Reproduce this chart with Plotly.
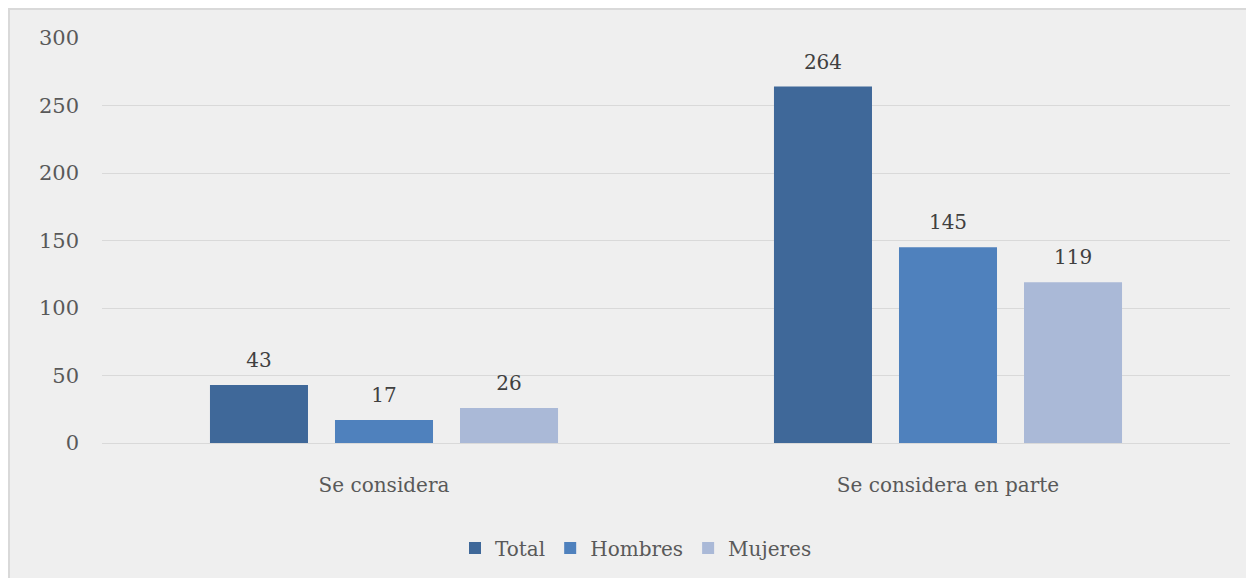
import plotly.graph_objects as go

categories = ["Se considera", "Se considera en parte"]
total = [43, 264]
hombres = [17, 145]
mujeres = [26, 119]
y_ticks = [0, 50, 100, 150, 200, 250, 300]

# the page puts the figure 8px in from the top-left corner
W, H = 1246, 570
ML, MR, MT, MB = 94, 24, 30, 134
PW, PH = W - ML - MR, H - MT - MB

FONT = "DejaVu Serif"
BG = "#efefef"

series = [
    ("Total", total, "#3f6899"),
    ("Hombres", hombres, "#4f81bd"),
    ("Mujeres", mujeres, "#aab9d7"),
]

# tall hair spaces on both sides lift the label a little off the bar
pad = "<span style='font-size:62px'>\u200a</span>"

fig = go.Figure()
for name, vals, col in series:
    fig.add_trace(
        go.Bar(
            x=categories,
            y=vals,
            name=name,
            marker=dict(color=col, line=dict(width=0)),
            text=vals,
            texttemplate=pad + "%{text}" + pad,
            textposition="outside",
            textfont=dict(family=FONT, size=20, color="#404040"),
            cliponaxis=False,
        )
    )


def px_x(p):
    return (p - ML) / PW


def px_y(p):
    return (H - MB - p) / PH


fig.update_layout(
    width=W,
    height=H,
    margin=dict(l=ML, r=MR, t=MT, b=MB),
    paper_bgcolor="white",
    plot_bgcolor=BG,
    barmode="group",
    bargap=0.335,
    bargroupgap=0.216,
    font=dict(family=FONT, color="#595959"),
    showlegend=True,
    legend=dict(
        orientation="h",
        x=px_x(628),
        xanchor="center",
        y=px_y(540),
        yanchor="middle",
        font=dict(family=FONT, size=20, color="#595959"),
        itemwidth=30,
        bgcolor="rgba(0,0,0,0)",
    ),
    xaxis=dict(
        showgrid=False,
        showline=False,
        ticks="",
        ticklabelstandoff=28,
        tickfont=dict(family=FONT, size=20, color="#595959"),
    ),
    yaxis=dict(
        range=[0, 300],
        tickvals=y_ticks,
        showgrid=True,
        gridcolor="#d9d9d9",
        gridwidth=1,
        zeroline=True,
        zerolinecolor="#d9d9d9",
        zerolinewidth=1,
        ticks="",
        ticklabelstandoff=22,
        tickfont=dict(family=FONT, size=21, color="#595959"),
    ),
    shapes=[
        dict(
            type="rect",
            xref="paper",
            yref="paper",
            x0=px_x(1),
            x1=px_x(W + 20),
            y0=px_y(H + 20),
            y1=px_y(1),
            fillcolor=BG,
            line=dict(color="#d9d9d9", width=2),
            layer="below",
        )
    ],
)

fig.write_html("out.html")
